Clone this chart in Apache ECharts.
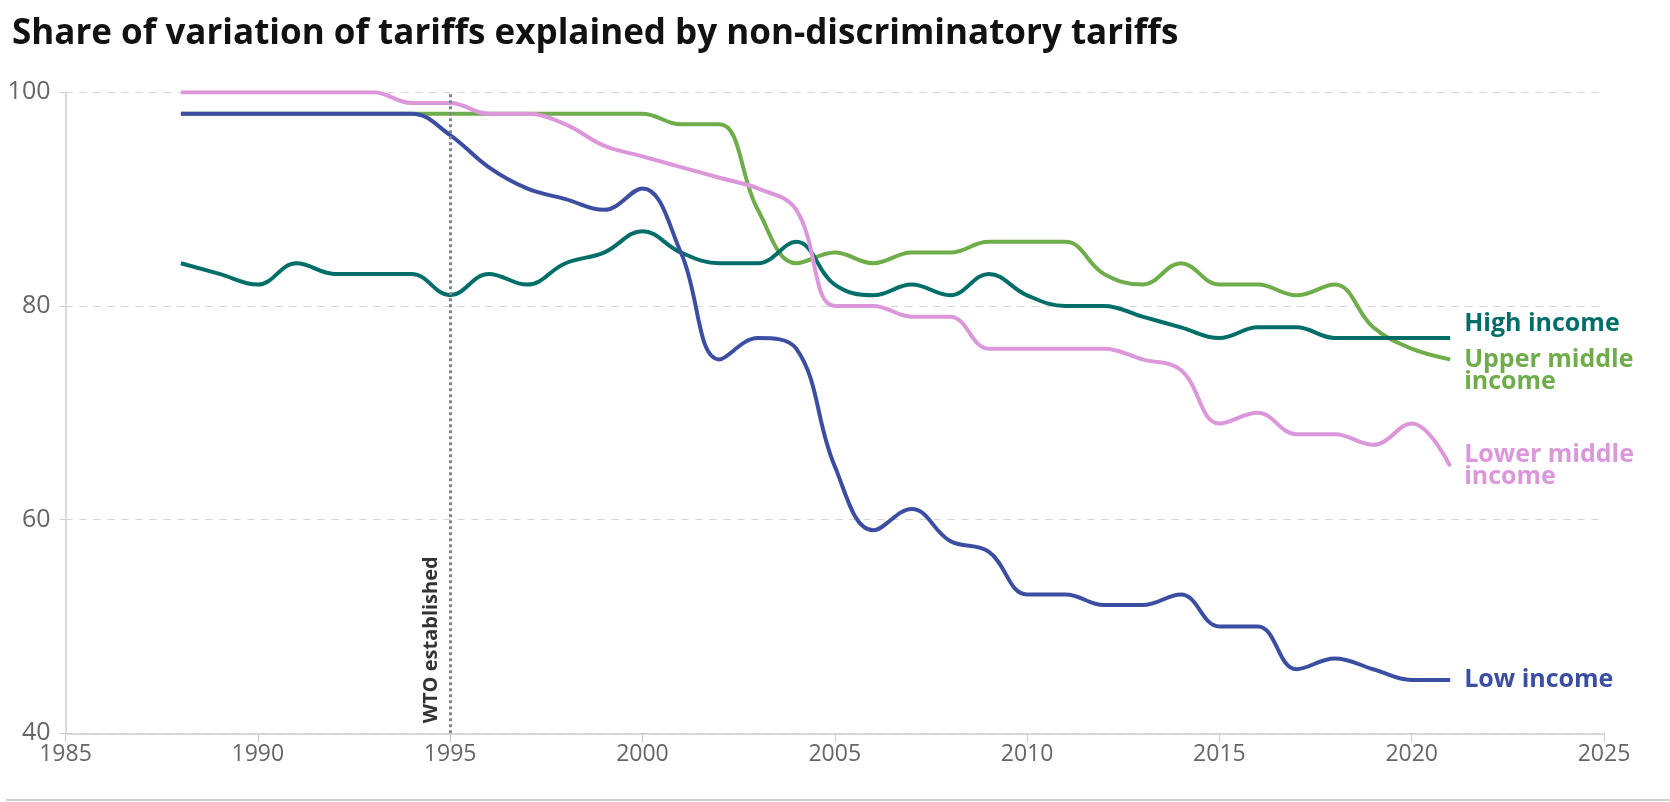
<!DOCTYPE html>
<html>
<head>
<meta charset="utf-8">
<script src="https://cdn.jsdelivr.net/npm/echarts@6/dist/echarts.min.js"></script>
<style>
html,body{margin:0;padding:0;background:#fff;}
#c{width:1670px;height:802px;}
</style>
</head>
<body>
<div id="c"></div>
<script>
const years = [1988,1989,1990,1991,1992,1993,1994,1995,1996,1997,1998,1999,2000,2001,2002,2003,2004,2005,2006,2007,2008,2009,2010,2011,2012,2013,2014,2015,2016,2017,2018,2019,2020,2021];
const upperMiddle = [98,98,98,98,98,98,98,98,98,98,98,98,98,97,97,89,84,85,84,85,85,86,86,86,83,82,84,82,82,81,82,78,76,75];
const highIncome = [84,83,82,84,83,83,83,81,83,82,84,85,87,85,84,84,86,82,81,82,81,83,81,80,80,79,78,77,78,78,77,77,77,77];
const lowerMiddle = [100,100,100,100,100,100,99,99,98,98,97,95,94,93,92,91,89,80,80,79,79,76,76,76,76,75,74,69,70,68,68,67,69,65];
const lowIncome = [98,98,98,98,98,98,98,96,93,91,90,89,91,85,75,77,76,65,59,61,58,57,53,53,52,52,53,50,50,46,47,46,45,45];
const xTicks = [1985,1990,1995,2000,2005,2010,2015,2020,2025];
const yTicks = [40,60,80,100];
const wtoYear = 1995;

const pairs = v => years.map((y,i)=>[y,v[i]]);
const chart = echarts.init(document.getElementById('c'));
const font = '"Open Sans", "Noto Sans", sans-serif';

function mk(name, data, color, offset, extra){
  return Object.assign({
    name, type:'line', data: pairs(data), smooth:0.4,
    showSymbol:false, symbol:'none',
    lineStyle:{color, width:4},
    itemStyle:{color},
    endLabel:{show:true, formatter: name.replace(' middle ', ' middle\n'), color, fontFamily:font, fontWeight:'bold', fontSize:25, lineHeight:22, distance:14, offset},
    emphasis:{disabled:true}
  }, extra||{});
}

chart.setOption({
  animation:false,
  title:{text:'Share of variation of tariffs explained by non-discriminatory tariffs', left:7, top:12,
    textStyle:{fontFamily:font, fontWeight:'bold', fontSize:35, color:'#111'}},
  grid:{left:65.5, right:66, top:92.3, bottom:68.7},
  xAxis:{type:'value', min:xTicks[0], max:xTicks[xTicks.length-1], interval:5,
    axisLine:{show:true, lineStyle:{color:'#ccccd6', width:1.5}},
    axisTick:{show:true, length:9, lineStyle:{color:'#ccccd6'}},
    splitLine:{show:false},
    axisLabel:{color:'#666', fontFamily:font, fontSize:23, margin:10, formatter: v => String(v)}},
  yAxis:{type:'value', min:yTicks[0], max:yTicks[yTicks.length-1], interval:20,
    axisLine:{show:true, lineStyle:{color:'#ccccd6', width:1.5}},
    axisTick:{show:true, length:6, lineStyle:{color:'#ccccd6'}},
    splitLine:{show:true, lineStyle:{color:'#d3d3da', type:[7,7], width:1}},
    axisLabel:{color:'#666', fontFamily:font, fontSize:25, margin:15, formatter: v => String(v)}},
  graphic:[{type:'line', shape:{x1:6, y1:800, x2:1670, y2:800}, style:{stroke:'#d0d0d0', lineWidth:2}}],
  series:[
    mk('Upper middle income', upperMiddle, '#6fac4a', [0,11], {
      markLine:{silent:true, symbol:'none', data:[{xAxis:wtoYear}],
        lineStyle:{color:'#7d8794', type:'dotted', width:3},
        label:{show:true, formatter:'WTO established', position:'insideStartTop', distance:[10,9],
          color:'#333', fontFamily:font, fontWeight:'bold', fontSize:20}}}),
    mk('High income', highIncome, '#006e68', [0,-14]),
    mk('Lower middle income', lowerMiddle, '#db97da', [0,0]),
    mk('Low income', lowIncome, '#3c4ea2', [0,0])
  ]
});
</script>
</body>
</html>
